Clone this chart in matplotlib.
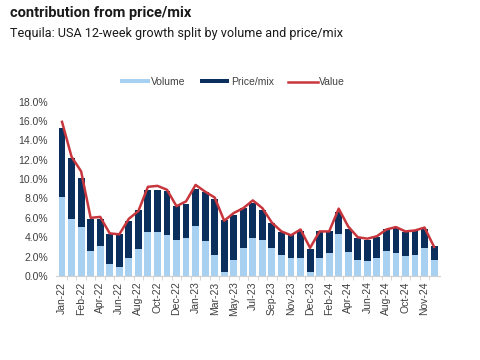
import numpy as np
import matplotlib
matplotlib.use("Agg")
import matplotlib.pyplot as plt

# 4-weekly periods, labelled every other bar
tick_labels = ["Jan-22", "Feb-22", "Apr-22", "Jun-22", "Aug-22", "Oct-22", "Dec-22",
               "Jan-23", "Mar-23", "May-23", "Jul-23", "Sep-23", "Nov-23", "Dec-23",
               "Feb-24", "Apr-24", "Jun-24", "Aug-24", "Oct-24", "Nov-24"]

# stacked bars: volume part and total height (volume + price/mix), in %
volume = [8.2, 5.9, 5.1, 2.6, 3.1, 1.25, 0.9, 1.9, 2.8, 4.5,
          4.5, 4.25, 3.7, 3.9, 5.2, 3.6, 2.2, 0.4, 1.7, 2.9,
          3.9, 3.7, 2.9, 2.2, 1.9, 1.9, 0.4, 1.9, 2.4, 4.3,
          2.5, 1.7, 1.55, 1.9, 2.6, 2.35, 2.1, 2.2, 2.9, 1.7]
total = [15.3, 12.2, 10.1, 5.9, 5.9, 4.3, 4.3, 5.7, 6.8, 8.9,
         8.9, 8.75, 7.2, 7.4, 9.0, 8.65, 7.9, 5.8, 6.3, 7.0,
         7.5, 6.85, 5.5, 4.5, 4.2, 4.6, 2.8, 4.6, 4.6, 6.6,
         4.9, 3.9, 3.75, 4.0, 4.8, 4.95, 4.5, 4.7, 4.9, 3.1]
value = [15.9, 12.3, 10.8, 6.0, 6.1, 4.4, 4.3, 5.9, 6.7, 9.2,
         9.3, 8.9, 7.2, 7.7, 9.4, 8.7, 8.1, 5.7, 6.5, 7.0,
         7.8, 7.0, 5.5, 4.6, 4.2, 4.8, 2.9, 4.6, 4.6, 6.95,
         5.1, 4.0, 3.85, 4.1, 4.8, 5.05, 4.6, 4.7, 5.0, 3.0]

volume = np.array(volume)
price_mix = np.array(total) - volume
x = np.arange(len(volume))

light = "#A8D0F0"
navy = "#0B2F5C"
red = "#C8363D"
txt = "#404040"

plt.rcParams['font.family'] = ['Liberation Sans', 'DejaVu Sans']

fig = plt.figure(figsize=(4.8, 3.6), dpi=100)
ax = fig.add_axes([0.1173, 0.2333, 0.799, 0.4847])

b1 = ax.bar(x, volume, width=0.72, color=light, label="Volume", zorder=2)
b2 = ax.bar(x, price_mix, width=0.72, bottom=volume, color=navy, label="Price/mix", zorder=2)
ln, = ax.plot(x, value, color=red, lw=1.8, solid_joinstyle="round", label="Value", zorder=3)

ax.set_xlim(-0.6, len(x) - 0.4)
ax.set_ylim(0, 18)
ax.set_yticks(np.arange(0, 18.1, 2))
ax.set_yticklabels([f"{v:.1f}%" for v in np.arange(0, 18.1, 2)])

ax.set_xticks(x[::2])
ax.set_xticklabels(tick_labels, rotation=90)
ax.set_xticks(x[:-1] + 0.5, minor=True)

for s in ["top", "right", "left"]:
    ax.spines[s].set_visible(False)
ax.spines["bottom"].set_color("#D0D0D0")
ax.tick_params(axis="y", length=0, labelsize=7.5, labelcolor=txt, pad=6)
ax.tick_params(axis="x", which="major", length=0, labelsize=7.5, labelcolor=txt, pad=4)
ax.tick_params(axis="x", which="minor", length=3, color="#D0D0D0")

ax.legend([b1, b2, ln], ["Volume", "Price/mix", "Value"],
          loc="lower center", bbox_to_anchor=(0.46, 1.03), ncol=3, frameon=False,
          fontsize=7.5, labelcolor=txt, handlelength=2.8, handleheight=0.3,
          columnspacing=1.4, handletextpad=0.15)

fig.text(0.021, 0.965, "contribution from price/mix", fontsize=10.5, fontweight="bold",
         family=["Roboto", "DejaVu Sans"], color="#1a1a1a", va="center")
fig.text(0.021, 0.908, "Tequila: USA 12-week growth split by volume and price/mix",
         fontsize=9.1, family=["Roboto", "DejaVu Sans"], color="#1a1a1a", va="center")

fig.savefig("out.png", dpi=100)
